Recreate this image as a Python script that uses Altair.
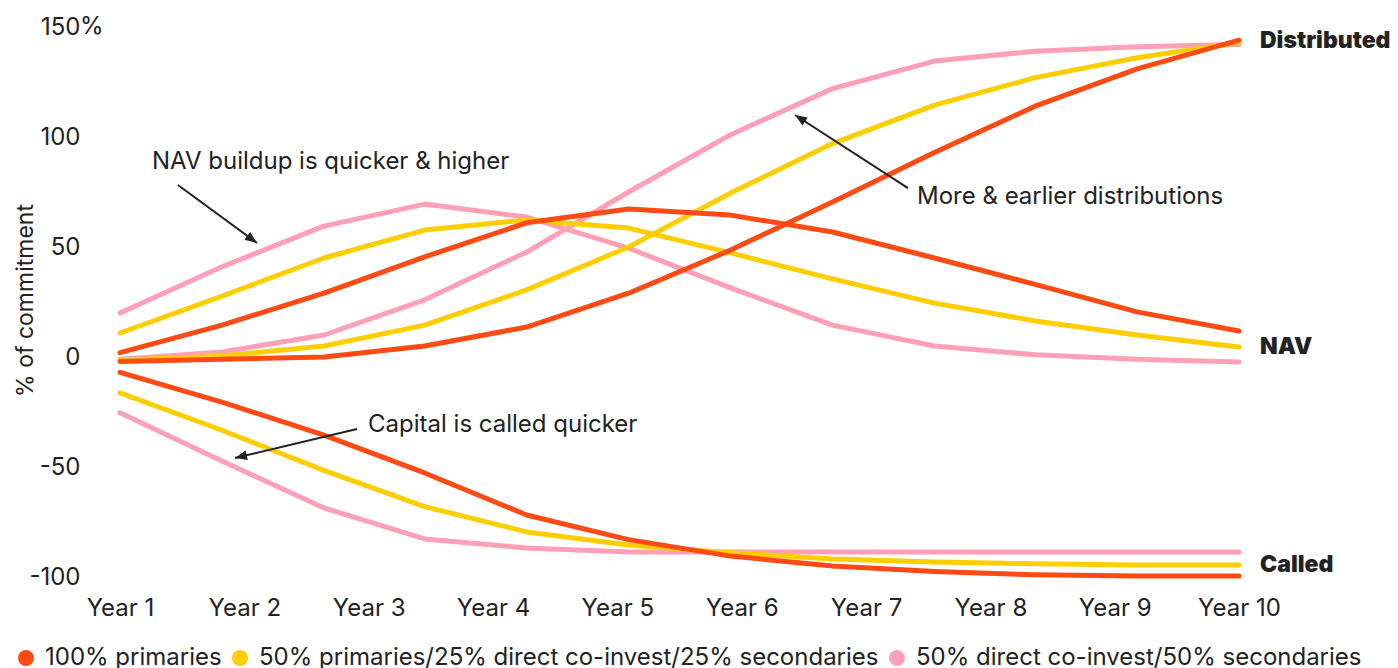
import altair as alt
import pandas as pd

# Horizontal positions of the twelve observations, expressed in years
years = [1.0, 1.82, 2.64, 3.45, 4.27, 5.09, 5.91, 6.73, 7.55, 8.36, 9.18, 10.0]

mixes = [
    "100% primaries",
    "50% primaries/25% direct co-invest/25% secondaries",
    "50% direct co-invest/50% secondaries",
]
colors = ["#FF4A14", "#FFCE00", "#FF9FB8"]

# Cumulative capital called (% of commitment)
called_primaries = [-7.0, -20.5, -35.5, -52.7, -71.8, -83.0, -90.5, -95.0, -97.5, -99.0, -99.5, -99.5]
called_mixed = [-16.3, -33.3, -51.5, -68.0, -79.5, -85.5, -89.0, -91.8, -93.2, -94.0, -94.5, -94.5]
called_coinvest = [-25.3, -47.3, -68.6, -82.7, -86.8, -88.6, -88.6, -88.6, -88.6, -88.6, -88.6, -88.6]

# Net asset value (% of commitment)
nav_primaries = [2.0, 14.5, 29.0, 45.5, 61.0, 67.3, 64.5, 56.8, 45.0, 33.0, 20.5, 11.8]
nav_mixed = [10.9, 27.7, 45.0, 57.7, 62.3, 58.6, 47.3, 35.5, 24.5, 16.4, 10.0, 4.5]
nav_coinvest = [20.0, 41.0, 59.5, 69.5, 63.6, 49.5, 31.4, 14.5, 5.0, 1.0, -1.0, -2.3]

# Cumulative distributions (% of commitment)
dist_primaries = [-2.0, -1.0, 0.0, 5.0, 13.6, 29.0, 48.6, 70.5, 93.0, 114.0, 131.0, 144.0]
dist_mixed = [-1.5, 0.5, 5.0, 14.5, 30.5, 50.0, 74.5, 97.0, 114.5, 127.0, 136.0, 143.0]
dist_coinvest = [-1.0, 2.3, 10.0, 26.0, 47.7, 75.0, 101.0, 122.0, 134.5, 139.0, 141.0, 142.0]

series = {
    (mixes[0], "Called"): called_primaries,
    (mixes[1], "Called"): called_mixed,
    (mixes[2], "Called"): called_coinvest,
    (mixes[0], "NAV"): nav_primaries,
    (mixes[1], "NAV"): nav_mixed,
    (mixes[2], "NAV"): nav_coinvest,
    (mixes[0], "Distributed"): dist_primaries,
    (mixes[1], "Distributed"): dist_mixed,
    (mixes[2], "Distributed"): dist_coinvest,
}

rows = []
for (mix, measure), vals in series.items():
    for yr, v in zip(years, vals):
        rows.append({"year": yr, "value": v, "mix": mix, "measure": measure})
df = pd.DataFrame(rows)

# End-of-line labels
end_labels = pd.DataFrame({
    "label": ["Distributed", "NAV", "Called"],
    "year": [10.0, 10.0, 10.0],
    "value": [143.5, 4.5, -94.5],
})

# Callout texts and their arrows
notes = pd.DataFrame({
    "text": ["NAV buildup is quicker & higher", "More & earlier distributions", "Capital is called quicker"],
    "year": [1.257, 7.41, 2.995],
    "value": [88.6, 72.7, -30.9],
})
arrows = pd.DataFrame({
    "x0": [1.466, 7.338, 2.906],
    "y0": [78.2, 76.8, -32.7],
    "x1": [2.102, 6.429, 1.925],
    "y1": [51.8, 110.0, -45.9],
    "angle": [126.3, 302.9, 256.6],
})

FONT = "Inter"
INK = "#222222"
FS = 24

x_scale = alt.Scale(domain=[1, 10], nice=False, zero=False)
y_scale = alt.Scale(domain=[-100, 150], nice=False, zero=False)

x_enc = alt.X(
    "year:Q",
    scale=x_scale,
    axis=alt.Axis(
        values=[1, 2, 3, 4, 5, 6, 7, 8, 9, 10],
        labelExpr="'Year ' + datum.value",
        title=None,
        domain=False,
        ticks=False,
        grid=False,
        labelPadding=19,
        labelFontSize=FS,
        labelColor=INK,
        labelFont=FONT,
        labelFlush=False,
    ),
)
y_enc = alt.Y(
    "value:Q",
    scale=y_scale,
    axis=alt.Axis(
        values=[-100, -50, 0, 50, 100, 150],
        labelExpr="'' + datum.value",
        title="% of commitment",
        titleFontSize=23,
        titleFontWeight="normal",
        titleColor=INK,
        titleFont=FONT,
        titleX=-95,
        titleY=273,
        titleBaseline="middle",
        domain=False,
        ticks=False,
        grid=False,
        labelPadding=40,
        labelFontSize=FS,
        labelColor=INK,
        labelFont=FONT,
        labelBaseline="middle",
        labelFlush=False,
    ),
)

color_scale = alt.Scale(domain=mixes, range=colors)

# Pink first, red last so the primaries lines sit on top
line_layers = []
for mix in reversed(mixes):
    line_layers.append(
        alt.Chart(df)
        .transform_filter(alt.datum.mix == mix)
        .mark_line(strokeWidth=5, strokeCap="round", strokeJoin="round")
        .encode(
            x=x_enc,
            y=y_enc,
            color=alt.Color("mix:N", scale=color_scale, legend=None),
            detail="measure:N",
        )
    )

# Invisible points that carry the filled-circle legend
legend_layer = (
    alt.Chart(df)
    .mark_circle(opacity=0)
    .encode(
        x=alt.X("year:Q", scale=x_scale),
        y=alt.Y("value:Q", scale=y_scale),
        color=alt.Color(
            "mix:N",
            scale=color_scale,
            legend=alt.Legend(
                title=None,
                orient="none",
                legendX=-106,
                legendY=619,
                direction="horizontal",
                symbolType="circle",
                symbolSize=256,
                symbolStrokeWidth=0,
                symbolOpacity=1,
                labelFontSize=FS,
                labelFont=FONT,
                labelColor=INK,
                labelLimit=0,
                labelOffset=7,
                columnPadding=6,
            ),
        ),
    )
)

pct = (
    alt.Chart(pd.DataFrame({"value": [150], "t": ["%"]}))
    .mark_text(align="left", baseline="middle", fontSize=FS, font=FONT, color=INK)
    .encode(x=alt.value(-40), y=alt.Y("value:Q", scale=y_scale), text="t:N")
)

ends = (
    alt.Chart(end_labels)
    .mark_text(align="left", baseline="middle", dx=21, fontSize=23, fontWeight=900, font=FONT, color=INK)
    .encode(x=alt.X("year:Q", scale=x_scale), y=alt.Y("value:Q", scale=y_scale), text="label:N")
)

note_text = (
    alt.Chart(notes)
    .mark_text(align="left", baseline="middle", fontSize=FS, font=FONT, color=INK)
    .encode(x=alt.X("year:Q", scale=x_scale), y=alt.Y("value:Q", scale=y_scale), text="text:N")
)

arrow_shaft = (
    alt.Chart(arrows)
    .mark_rule(strokeWidth=2, color=INK)
    .encode(
        x=alt.X("x0:Q", scale=x_scale),
        y=alt.Y("y0:Q", scale=y_scale),
        x2="x1:Q",
        y2="y1:Q",
    )
)

arrow_head = (
    alt.Chart(arrows)
    .mark_point(shape="M0,0L0.65,1.6L-0.65,1.6Z", filled=True, size=225, color=INK, opacity=1)
    .encode(
        x=alt.X("x1:Q", scale=x_scale),
        y=alt.Y("y1:Q", scale=y_scale),
        angle=alt.Angle("angle:Q", scale=None),
    )
)

chart = (
    alt.layer(legend_layer, *line_layers, pct, ends, note_text, arrow_shaft, arrow_head)
    .properties(
        width=1119,
        height=550,
        autosize=alt.AutoSizeParams(type="none"),
        padding={"left": 120, "top": 27, "right": 159, "bottom": 91},
        background="white",
    )
    .configure_view(stroke=None)
    .configure_text(font=FONT)
)

chart.save("out.html", embed_options={"renderer": "svg", "actions": False})
